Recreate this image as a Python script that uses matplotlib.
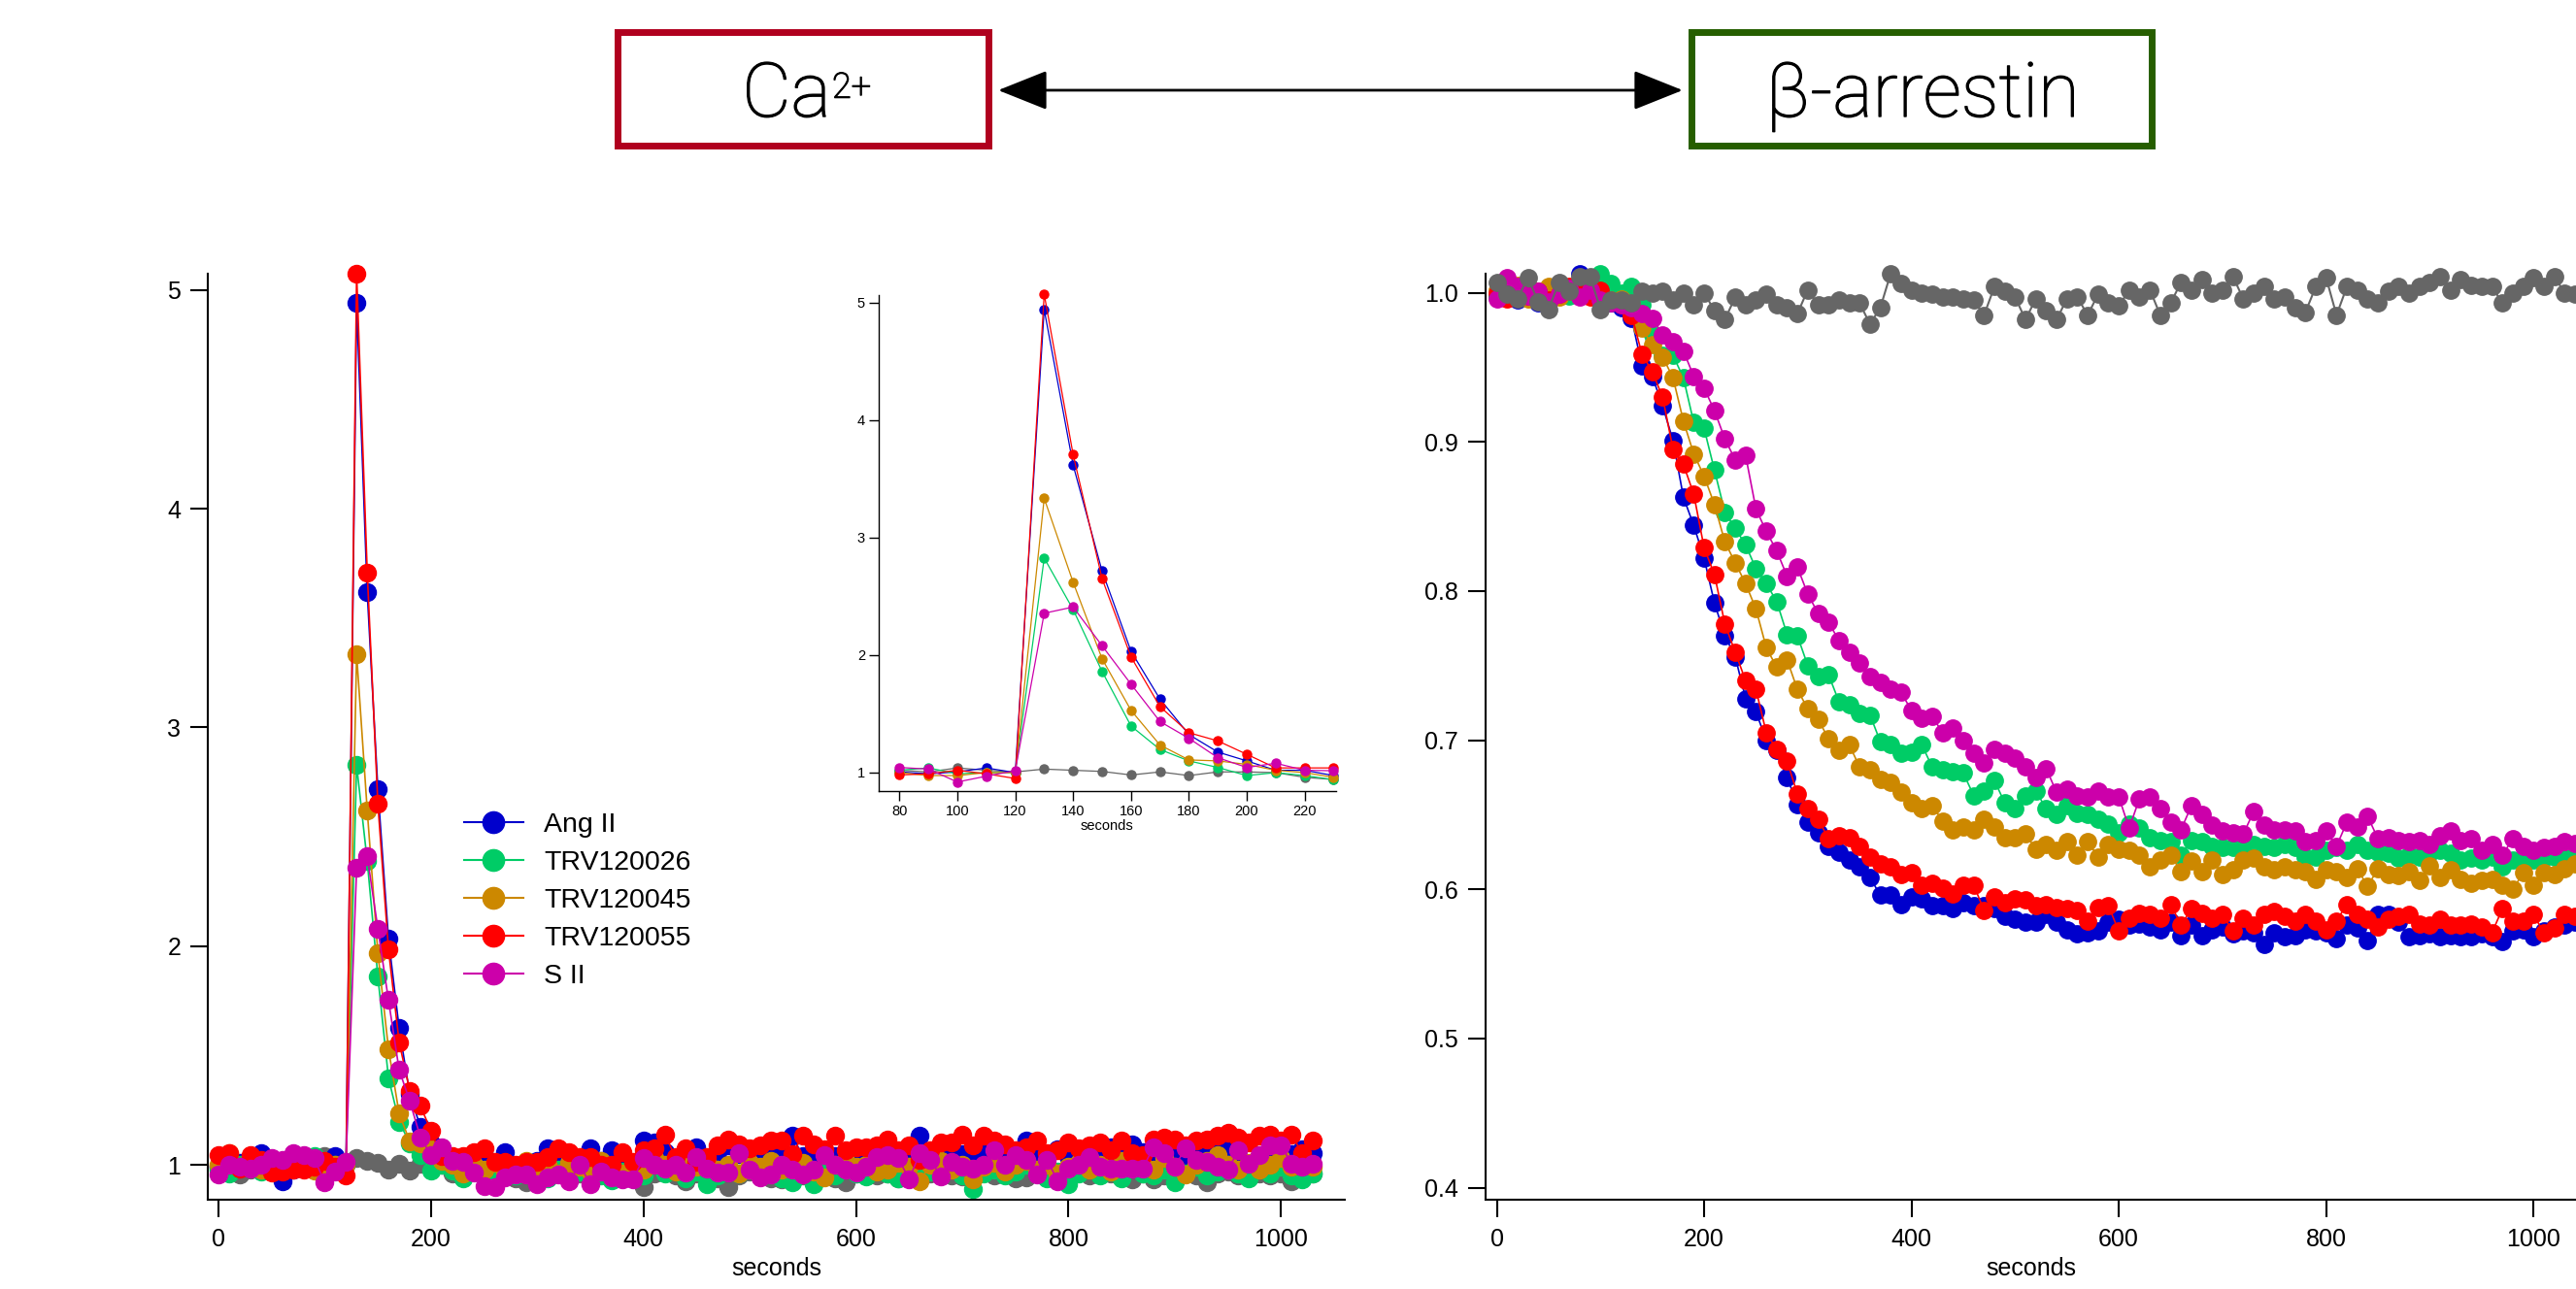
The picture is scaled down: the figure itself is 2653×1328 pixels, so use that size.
import numpy as np
import matplotlib
matplotlib.use("Agg")
import matplotlib.pyplot as plt
import matplotlib.patheffects as pe
from matplotlib.lines import Line2D
from matplotlib.patches import Rectangle, FancyArrowPatch

plt.rcParams['font.family'] = ['Liberation Sans', 'DejaVu Sans']

# Ca2+ response (fold over baseline), sampled every 10 s from t = 0
ca_ang2 = [0.990, 1.020, 1.010, 1.000, 1.052, 0.990, 0.926, 0.980, 1.006, 0.990,
           1.006, 1.040, 1.000, 4.943, 3.618, 2.716, 2.033, 1.626, 1.324, 1.175,
           1.100, 1.020, 1.020, 0.975, 1.010, 1.040, 1.000, 1.059, 0.990, 1.000,
           1.020, 1.074, 1.030, 1.000, 1.010, 1.074, 1.020, 1.066, 1.030, 1.000,
           1.110, 1.103, 1.060, 1.030, 1.050, 1.080, 1.020, 1.060, 1.090, 1.050,
           1.030, 1.070, 1.090, 1.060, 1.133, 1.040, 1.020, 1.060, 1.040, 1.030,
           1.060, 1.050, 1.080, 1.040, 1.020, 1.070, 1.133, 1.060, 1.040, 1.080,
           1.050, 1.030, 1.070, 1.060, 1.020, 1.060, 1.111, 1.050, 1.030, 1.070,
           1.040, 1.060, 1.020, 1.050, 1.080, 1.040, 1.096, 1.060, 1.030, 1.050,
           1.070, 1.040, 1.060, 1.030, 1.096, 1.070, 1.040, 0.956, 1.030, 1.060,
           1.080, 1.050, 1.070, 1.052]
ca_trv026 = [0.980, 0.960, 1.000, 0.990, 0.970, 1.000, 0.980, 1.010, 1.020, 1.040,
             0.990, 1.000, 1.000, 2.827, 2.388, 1.861, 1.397, 1.197, 1.100, 1.044,
             0.975, 1.000, 0.975, 0.940, 0.990, 0.960, 0.930, 0.970, 0.950, 0.990,
             0.960, 0.940, 0.980, 0.950, 0.970, 0.990, 0.950, 0.930, 0.970, 0.980,
             0.950, 1.000, 0.960, 0.980, 0.940, 0.970, 0.912, 0.950, 0.980, 0.960,
             0.990, 0.950, 0.970, 0.940, 0.919, 0.960, 0.912, 0.970, 0.950, 0.990,
             0.960, 0.948, 0.980, 0.960, 0.940, 0.990, 0.950, 0.970, 0.960, 0.990,
             0.950, 0.890, 0.960, 0.980, 0.950, 0.970, 1.000, 0.960, 0.940, 0.970,
             0.912, 0.960, 0.980, 0.950, 0.970, 0.940, 0.990, 0.960, 0.950, 0.980,
             0.919, 0.960, 0.990, 0.950, 0.970, 1.000, 0.960, 0.940, 0.980, 0.960,
             0.990, 0.950, 0.934, 0.960]
ca_trv045 = [1.000, 1.052, 0.990, 1.010, 0.980, 1.000, 1.020, 0.990, 1.000, 0.975,
             0.975, 1.000, 1.000, 3.335, 2.620, 1.969, 1.530, 1.235, 1.108, 1.100,
             1.070, 1.020, 1.000, 0.960, 1.000, 0.980, 1.010, 0.970, 0.990, 1.020,
             0.980, 1.000, 0.960, 1.010, 0.990, 0.970, 1.020, 0.990, 0.960, 1.000,
             0.980, 1.030, 1.000, 0.970, 1.010, 0.990, 1.020, 0.980, 1.000, 0.960,
             1.010, 0.990, 1.020, 0.980, 1.000, 1.010, 0.970, 0.941, 1.000, 1.020,
             0.990, 1.000, 0.970, 0.978, 1.010, 0.990, 0.926, 1.000, 1.020, 0.980,
             1.000, 0.934, 0.990, 1.010, 0.970, 1.000, 1.020, 0.980, 1.000, 0.960,
             0.990, 1.010, 0.980, 1.000, 0.970, 1.020, 0.990, 1.000, 0.980, 1.030,
             0.990, 0.956, 1.000, 1.020, 1.044, 1.000, 0.980, 1.010, 0.978, 1.000,
             1.030, 0.990, 1.010, 0.990]
ca_trv055 = [1.044, 1.052, 0.985, 1.044, 1.022, 0.963, 0.970, 0.978, 0.980, 0.990,
             1.020, 0.990, 0.950, 5.073, 3.707, 2.652, 1.985, 1.562, 1.340, 1.270,
             1.156, 1.040, 1.040, 1.040, 1.059, 1.074, 1.015, 1.015, 1.000, 1.015,
             1.015, 1.037, 1.074, 1.059, 1.037, 1.037, 1.000, 1.000, 1.059, 1.015,
             1.066, 1.074, 1.140, 1.037, 1.074, 1.015, 1.037, 1.088, 1.118, 1.096,
             1.074, 1.088, 1.111, 1.110, 1.050, 1.133, 1.096, 1.070, 1.133, 1.066,
             1.081, 1.081, 1.090, 1.118, 1.066, 1.088, 1.022, 1.066, 1.103, 1.103,
             1.140, 1.088, 1.133, 1.111, 1.096, 1.066, 1.080, 1.111, 1.052, 1.066,
             1.103, 1.074, 1.088, 1.103, 1.066, 1.111, 1.052, 1.044, 1.118, 1.125,
             1.118, 1.088, 1.111, 1.118, 1.133, 1.148, 1.125, 1.103, 1.133, 1.140,
             1.111, 1.140, 1.052, 1.111]
ca_sii = [0.956, 1.000, 0.993, 0.985, 1.000, 1.030, 1.022, 1.052, 1.044, 1.030,
          0.920, 0.970, 1.016, 2.357, 2.410, 2.080, 1.753, 1.435, 1.292, 1.127,
          1.044, 1.080, 1.020, 1.016, 0.963, 0.904, 0.897, 0.941, 0.956, 0.956,
          0.912, 0.941, 0.956, 0.926, 1.000, 0.912, 0.970, 0.941, 0.934, 0.934,
          1.030, 1.000, 0.985, 1.000, 0.963, 1.037, 0.985, 0.963, 0.963, 1.052,
          0.978, 0.941, 0.956, 1.000, 0.978, 0.956, 0.978, 1.044, 1.000, 0.978,
          0.963, 0.993, 1.037, 1.044, 1.030, 0.934, 1.052, 1.022, 0.948, 1.015,
          0.993, 0.985, 1.000, 1.066, 1.000, 1.044, 1.022, 0.956, 1.022, 0.926,
          0.985, 1.000, 1.037, 0.993, 0.985, 0.985, 0.985, 0.985, 1.081, 1.052,
          0.993, 1.074, 1.022, 1.015, 0.993, 0.978, 1.066, 1.007, 1.044, 1.088,
          1.088, 1.007, 0.993, 1.007]
ca_vehicle = [0.990, 0.963, 0.956, 0.980, 0.990, 0.970, 1.000, 0.990, 1.020, 1.006,
              1.040, 1.020, 1.006, 1.030, 1.020, 1.010, 0.980, 1.006, 0.975, 1.006,
              1.006, 1.000, 0.960, 0.941, 0.970, 0.960, 0.950, 0.980, 0.940, 0.919,
              0.960, 0.950, 0.970, 0.940, 0.960, 0.950, 0.980, 0.950, 0.940, 0.960,
              0.897, 0.960, 0.970, 0.950, 0.926, 0.960, 0.980, 0.940, 0.897, 0.950,
              0.970, 0.960, 0.940, 0.934, 0.960, 0.950, 0.970, 0.960, 0.940, 0.919,
              0.960, 0.980, 0.950, 0.960, 0.940, 0.970, 0.950, 0.960, 0.980, 0.950,
              0.948, 0.960, 0.970, 0.950, 0.960, 0.940, 0.941, 0.960, 0.970, 0.950,
              0.960, 0.963, 0.950, 0.970, 0.960, 0.950, 0.934, 0.960, 0.934, 0.950,
              0.970, 0.960, 0.950, 0.919, 0.960, 0.970, 0.950, 0.978, 0.960, 0.950,
              0.960, 0.926, 0.950, 0.960]

# beta-arrestin recruitment (normalised), sampled every 10 s from t = 0
ba_ang2 = [0.998, 1.002, 0.995, 0.999, 0.993, 1.003, 0.998, 1.000, 1.013, 1.005,
           0.997, 0.993, 0.990, 0.983, 0.951, 0.944, 0.924, 0.901, 0.863, 0.844,
           0.822, 0.792, 0.770, 0.756, 0.728, 0.719, 0.700, 0.693, 0.675, 0.657,
           0.645, 0.638, 0.629, 0.625, 0.620, 0.615, 0.608, 0.596, 0.596, 0.590,
           0.595, 0.594, 0.589, 0.589, 0.587, 0.591, 0.589, 0.589, 0.587, 0.582,
           0.580, 0.578, 0.578, 0.583, 0.578, 0.573, 0.570, 0.571, 0.572, 0.578,
           0.580, 0.576, 0.577, 0.575, 0.573, 0.578, 0.569, 0.576, 0.569, 0.573,
           0.575, 0.570, 0.572, 0.571, 0.563, 0.571, 0.568, 0.569, 0.573, 0.572,
           0.571, 0.567, 0.576, 0.574, 0.566, 0.583, 0.583, 0.578, 0.568, 0.569,
           0.570, 0.568, 0.569, 0.568, 0.568, 0.570, 0.568, 0.565, 0.572, 0.573,
           0.568, 0.572, 0.575, 0.576, 0.578]
ba_trv026 = [0.997, 1.003, 0.999, 1.002, 0.996, 1.001, 1.005, 0.998, 1.004, 1.008,
             1.013, 1.006, 1.000, 1.004, 0.992, 0.972, 0.958, 0.958, 0.943, 0.913,
             0.909, 0.881, 0.853, 0.842, 0.831, 0.815, 0.805, 0.793, 0.771, 0.770,
             0.750, 0.743, 0.744, 0.726, 0.724, 0.718, 0.717, 0.699, 0.697, 0.691,
             0.692, 0.697, 0.682, 0.680, 0.679, 0.678, 0.663, 0.666, 0.673, 0.658,
             0.654, 0.663, 0.666, 0.654, 0.650, 0.656, 0.651, 0.650, 0.647, 0.644,
             0.638, 0.644, 0.641, 0.635, 0.633, 0.632, 0.623, 0.633, 0.632, 0.629,
             0.628, 0.628, 0.629, 0.630, 0.629, 0.628, 0.630, 0.628, 0.622, 0.622,
             0.626, 0.628, 0.626, 0.630, 0.626, 0.625, 0.624, 0.621, 0.623, 0.622,
             0.624, 0.626, 0.624, 0.620, 0.621, 0.620, 0.622, 0.615, 0.620, 0.618,
             0.620, 0.621, 0.622, 0.622, 0.621]
ba_trv045 = [1.002, 0.998, 1.005, 0.996, 1.000, 1.004, 0.997, 1.001, 1.006, 1.002,
             0.998, 0.995, 0.996, 0.992, 0.976, 0.965, 0.957, 0.943, 0.914, 0.892,
             0.877, 0.858, 0.833, 0.819, 0.805, 0.788, 0.762, 0.749, 0.754, 0.734,
             0.721, 0.714, 0.701, 0.693, 0.697, 0.682, 0.680, 0.674, 0.672, 0.665,
             0.658, 0.654, 0.656, 0.646, 0.640, 0.642, 0.640, 0.647, 0.642, 0.635,
             0.635, 0.637, 0.627, 0.630, 0.626, 0.632, 0.623, 0.632, 0.622, 0.630,
             0.627, 0.626, 0.623, 0.615, 0.620, 0.623, 0.612, 0.619, 0.612, 0.620,
             0.610, 0.613, 0.620, 0.621, 0.615, 0.613, 0.615, 0.613, 0.612, 0.607,
             0.613, 0.612, 0.608, 0.614, 0.602, 0.614, 0.610, 0.609, 0.612, 0.606,
             0.616, 0.608, 0.613, 0.607, 0.604, 0.606, 0.607, 0.603, 0.600, 0.611,
             0.603, 0.611, 0.610, 0.614, 0.617]
ba_trv055 = [1.000, 0.996, 1.003, 0.998, 1.001, 0.995, 0.999, 1.004, 1.000, 0.997,
             1.002, 0.994, 0.992, 0.985, 0.959, 0.947, 0.930, 0.895, 0.885, 0.865,
             0.829, 0.811, 0.778, 0.759, 0.740, 0.734, 0.705, 0.694, 0.686, 0.664,
             0.654, 0.647, 0.634, 0.636, 0.635, 0.629, 0.622, 0.617, 0.615, 0.610,
             0.611, 0.603, 0.604, 0.601, 0.597, 0.603, 0.603, 0.586, 0.595, 0.591,
             0.594, 0.593, 0.589, 0.590, 0.588, 0.587, 0.586, 0.579, 0.588, 0.589,
             0.572, 0.581, 0.584, 0.583, 0.581, 0.590, 0.576, 0.587, 0.584, 0.581,
             0.583, 0.572, 0.581, 0.576, 0.583, 0.585, 0.582, 0.579, 0.583, 0.579,
             0.573, 0.579, 0.590, 0.583, 0.580, 0.575, 0.580, 0.582, 0.583, 0.577,
             0.576, 0.580, 0.576, 0.576, 0.577, 0.575, 0.571, 0.587, 0.579, 0.579,
             0.583, 0.571, 0.574, 0.583, 0.582]
ba_sii = [0.996, 1.010, 1.004, 0.998, 1.001, 0.994, 0.999, 1.003, 0.997, 1.002,
          0.995, 0.993, 0.992, 0.990, 0.986, 0.983, 0.972, 0.967, 0.961, 0.944,
          0.936, 0.921, 0.902, 0.888, 0.891, 0.855, 0.840, 0.827, 0.810, 0.816,
          0.798, 0.785, 0.779, 0.767, 0.759, 0.752, 0.743, 0.739, 0.734, 0.732,
          0.720, 0.715, 0.716, 0.705, 0.708, 0.700, 0.691, 0.685, 0.694, 0.691,
          0.688, 0.682, 0.675, 0.681, 0.665, 0.667, 0.663, 0.662, 0.666, 0.662,
          0.662, 0.641, 0.661, 0.662, 0.654, 0.645, 0.640, 0.656, 0.650, 0.643,
          0.639, 0.638, 0.637, 0.652, 0.643, 0.640, 0.640, 0.639, 0.632, 0.633,
          0.639, 0.629, 0.645, 0.642, 0.649, 0.634, 0.635, 0.633, 0.632, 0.633,
          0.630, 0.636, 0.639, 0.633, 0.634, 0.626, 0.630, 0.623, 0.634, 0.629,
          0.626, 0.628, 0.629, 0.632, 0.631]
ba_vehicle = [1.007, 0.999, 0.996, 1.010, 0.994, 0.989, 1.007, 1.001, 1.011, 1.011,
              0.989, 0.995, 0.995, 0.993, 1.001, 1.000, 1.001, 0.995, 1.000, 0.992,
              1.000, 0.988, 0.982, 0.997, 0.992, 0.995, 0.999, 0.992, 0.990, 0.986,
              1.002, 0.992, 0.992, 0.995, 0.993, 0.993, 0.979, 0.990, 1.013, 1.006,
              1.002, 1.000, 0.999, 0.997, 0.997, 0.996, 0.995, 0.985, 1.004, 1.001,
              0.997, 0.982, 0.996, 0.988, 0.982, 0.996, 0.997, 0.985, 0.999, 0.993,
              0.991, 1.002, 0.997, 1.002, 0.985, 0.993, 1.007, 1.002, 1.009, 1.000,
              1.002, 1.011, 0.996, 1.000, 1.004, 0.996, 0.997, 0.990, 0.987, 1.004,
              1.010, 0.985, 1.004, 1.002, 0.996, 0.993, 1.001, 1.004, 1.000, 1.004,
              1.007, 1.011, 1.002, 1.009, 1.005, 1.004, 1.004, 0.993, 1.000, 1.004,
              1.010, 1.004, 1.011, 1.000, 0.999]

labels = ['Ang II', 'TRV120026', 'TRV120045', 'TRV120055', 'S II']
colors = ['#0000CC', '#00CC66', '#CC8800', '#FF0000', '#CC00AA']
gray = '#666666'

ca_series = [ca_ang2, ca_trv026, ca_trv045, ca_trv055, ca_sii]
ba_series = [ba_ang2, ba_trv026, ba_trv045, ba_trv055, ba_sii]


def trace(ax, vals, color, ms, lw, t0=0, t1=None):
    t = np.arange(len(vals)) * 10
    y = np.asarray(vals)
    keep = (t >= t0) if t1 is None else (t >= t0) & (t <= t1)
    ax.plot(t[keep], y[keep], '-o', color=color, ms=ms, lw=lw, clip_on=False)


def style_axes(ax, size=18, ticklen=13, lw=1.5):
    for side in ['top', 'right']:
        ax.spines[side].set_visible(False)
    for side in ['left', 'bottom']:
        ax.spines[side].set_linewidth(lw)
    ax.tick_params(direction='out', length=ticklen, width=lw, labelsize=size)


fig = plt.figure(figsize=(26.53, 13.28), dpi=100)

# left: Ca2+ traces
ax1 = fig.add_axes([0.0807, 0.0693, 0.4413, 0.7184])
trace(ax1, ca_vehicle, gray, 13, 1.2)
for vals, c in zip(ca_series, colors):
    trace(ax1, vals, c, 13, 1.2)
ax1.set_xlim(-10, 1060)
ax1.set_ylim(0.841, 5.075)
ax1.set_xticks([0, 200, 400, 600, 800, 1000])
ax1.set_yticks([1, 2, 3, 4, 5])
ax1.set_xlabel('seconds', fontsize=18, labelpad=4)
style_axes(ax1)
ax1.tick_params(axis='y', pad=7)
ax1.tick_params(axis='x', pad=8)

handles = [Line2D([], [], color=c, marker='o', ms=16, lw=1.5) for c in colors]
ax1.legend(handles, labels, loc='upper left', bbox_to_anchor=(0.180, 0.370),
           bbox_transform=fig.transFigure, frameon=False, fontsize=20.5,
           handlelength=2.15, handletextpad=0.75, labelspacing=0.46,
           borderpad=0, borderaxespad=0)

# inset: zoom on the Ca2+ peak (80-230 s)
axi = fig.add_axes([0.3411, 0.3863, 0.1775, 0.3848])
trace(axi, ca_vehicle, gray, 6.5, 0.9, 80, 230)
for vals, c in zip(ca_series, colors):
    trace(axi, vals, c, 6.5, 0.9, 80, 230)
axi.set_xlim(72.8, 230.8)
axi.set_ylim(0.843, 5.066)
axi.set_xticks([80, 100, 120, 140, 160, 180, 200, 220])
axi.set_yticks([1, 2, 3, 4, 5])
axi.set_xlabel('seconds', fontsize=10.5, labelpad=1)
style_axes(axi, size=10.5, ticklen=7, lw=1.0)
axi.tick_params(pad=3)

# right: beta-arrestin traces
ax2 = fig.add_axes([0.5767, 0.0693, 0.4233, 0.7184])
for vals, c in zip(ba_series, colors):
    trace(ax2, vals, c, 12.5, 1.2)
trace(ax2, ba_vehicle, gray, 12.5, 1.5)
ax2.set_xlim(-10.8, 1041)
ax2.set_ylim(0.392, 1.0128)
ax2.set_xticks([0, 200, 400, 600, 800, 1000])
ax2.set_yticks([0.4, 0.5, 0.6, 0.7, 0.8, 0.9, 1.0])
ax2.yaxis.set_major_formatter(matplotlib.ticker.FormatStrFormatter('%.1f'))
ax2.set_xlabel('seconds', fontsize=18, labelpad=4)
style_axes(ax2)
ax2.tick_params(axis='y', pad=7)
ax2.tick_params(axis='x', pad=8)

# header: readout boxes joined by a double arrow
top = fig.add_axes([0, 0, 1, 1], facecolor='none')
top.set_xlim(0, 1)
top.set_ylim(0, 1)
top.axis('off')
top.add_patch(Rectangle((0.2399, 0.8867), 0.1440, 0.0881, fill=False,
                        edgecolor='#B0001E', lw=5))
top.add_patch(Rectangle((0.6568, 0.8867), 0.1783, 0.0881, fill=False,
                        edgecolor='#265E00', lw=5))
head_font = dict(family=['Roboto', 'DejaVu Sans'], weight='light',
                 path_effects=[pe.withStroke(linewidth=0.9, foreground='black')])
ca_txt = top.text(0.3225, 0.9096, 'Ca', ha='right', va='baseline',
                  fontsize=56, **head_font)
top.annotate('2+', xy=(1.0, 1.0), xycoords=ca_txt, xytext=(1, -8),
             textcoords='offset points', ha='left', va='top',
             fontsize=26, **head_font)
top.text(0.7463, 0.9096, 'β-arrestin', ha='center', va='baseline',
         fontsize=56, **head_font)
top.add_patch(FancyArrowPatch((0.3875, 0.930), (0.6532, 0.930),
                              arrowstyle='<|-|>,head_length=0.8,head_width=0.32',
                              mutation_scale=40, color='black', lw=2,
                              shrinkA=0, shrinkB=0))

fig.savefig('out.png', dpi=100)
